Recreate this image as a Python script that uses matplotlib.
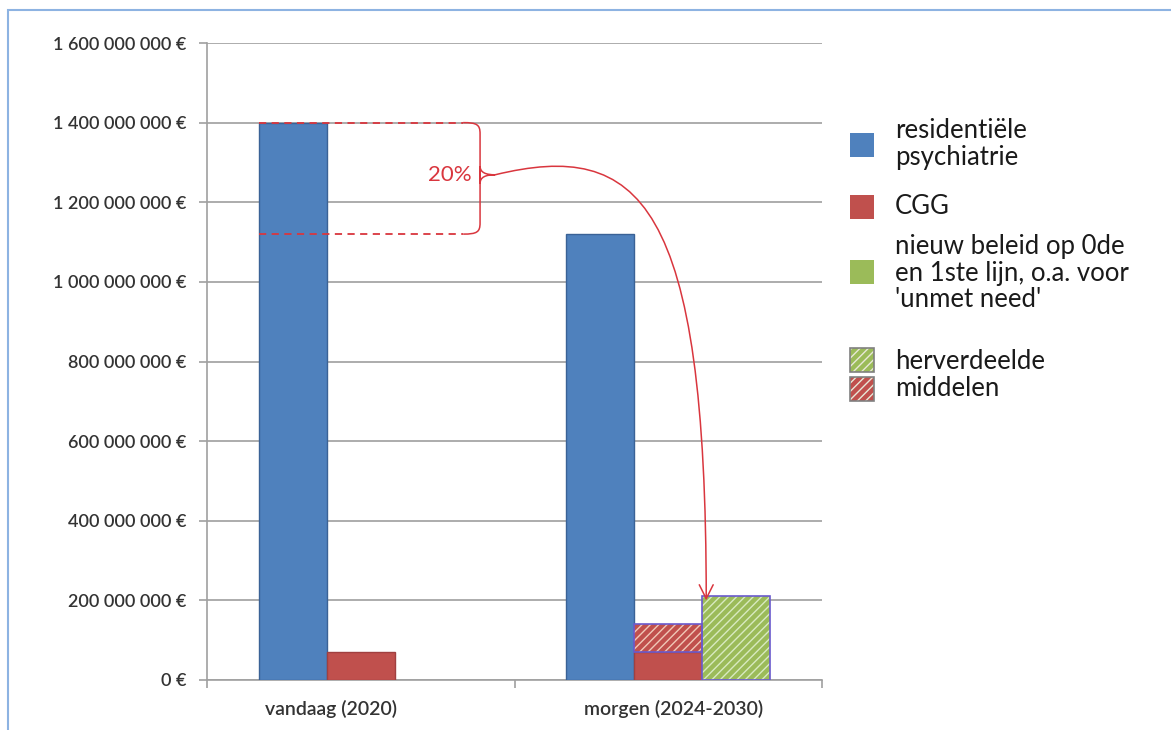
import matplotlib.pyplot as plt
import numpy as np
from matplotlib.patches import Rectangle, FancyArrowPatch, PathPatch
from matplotlib.path import Path
from matplotlib.ticker import FuncFormatter, FixedLocator
from matplotlib.transforms import ScaledTranslation

plt.rcParams['font.family'] = ['Lato', 'DejaVu Sans']
plt.rcParams['hatch.linewidth'] = 1.0

categories = ["vandaag (2020)", "morgen (2024-2030)"]
residentieel = [1400e6, 1120e6]
cgg = [70e6, 70e6]
cgg_herverdeeld = [0, 70e6]
nieuw_beleid = [0, 210e6]
share_label = "20%"

BLUE, RED, GREEN = '#4f81bd', '#c0504d', '#9bbb59'
ANN = '#d9363e'
HATCH_EDGE = '#6a5acd'

fig = plt.figure(figsize=(11.71, 7.3), dpi=100)
ax = fig.add_axes([207 / 1171, 1 - 680 / 730, 615 / 1171, 637 / 730])

x = np.arange(len(categories)) + 0.5
w = 0.221


def nz(vals):
    # hide zero-height segments so no outline is drawn at the baseline
    return np.where(np.array(vals) > 0, vals, np.nan)


ax.bar(x - w, residentieel, w, color=BLUE, edgecolor='#3a6296', lw=1, zorder=3)
ax.bar(x, cgg, w, color=RED, edgecolor='#a04040', lw=1, zorder=3)
# hatched (redistributed) parts
ax.bar(x, nz(cgg_herverdeeld), w, bottom=cgg, color=RED, edgecolor='#f0c8b8',
       hatch='////', lw=0, zorder=3)
ax.bar(x, nz(cgg_herverdeeld), w, bottom=cgg, fill=False, edgecolor=HATCH_EDGE, lw=1.2, zorder=4)
ax.bar(x + w, nz(nieuw_beleid), w, color=GREEN, edgecolor='#d8eac0',
       hatch='////', lw=0, zorder=3)
ax.bar(x + w, nz(nieuw_beleid), w, fill=False, edgecolor=HATCH_EDGE, lw=1.2, zorder=4)

ax.set_xlim(0, len(categories))
ax.set_ylim(0, 1600e6)
ax.yaxis.set_major_locator(FixedLocator(np.arange(0, 1600e6 + 1, 200e6)))
ax.yaxis.set_major_formatter(FuncFormatter(lambda v, p: f"{v:,.0f}".replace(',', ' ') + " €"))
ax.set_xticks(x)
ax.set_xticklabels(categories)
ax.set_xticks(np.arange(len(categories) + 1), minor=True)
ax.tick_params(axis='x', which='major', length=0, pad=14, labelsize=14, labelcolor='#333333')
ax.tick_params(axis='x', which='minor', length=6, color='#a0a0a0', width=1.2)
ax.tick_params(axis='y', length=6, color='#a0a0a0', width=1.2, labelsize=13,
               labelcolor='#333333', pad=9)
for lab in ax.get_yticklabels() + ax.get_xticklabels():
    lab.set_fontweight('semibold')
# the first category label sits a bit left of its group in the original
for lab, dx in zip(ax.get_xticklabels(), [-0.3, 0.05]):
    lab.set_transform(lab.get_transform() + ScaledTranslation(dx, 0, fig.dpi_scale_trans))
ax.grid(axis='y', color='#a6a6a6', lw=1.3, zorder=0)
for s in ['top', 'right']:
    ax.spines[s].set_visible(False)
ax.spines['left'].set_color('#a0a0a0')
ax.spines['left'].set_linewidth(1.2)
ax.spines['bottom'].set_color('#a0a0a0')
ax.spines['bottom'].set_linewidth(1.2)

# 20% annotation: dashed guides and brace
top, low = residentieel[0], residentieel[1]
x0, xe, xb, xt = x[0] - 1.5 * w, 0.833, 0.888, 0.937
mid = 1.269e9
ax.plot([x0, xe], [top, top], ls=(0, (4, 3)), color=ANN, lw=1.3, zorder=5)
ax.plot([x0, xe], [low, low], ls=(0, (4, 3)), color=ANN, lw=1.3, zorder=5)
ry = 28e6
verts = [(xe, top), (xb - 0.01, top), (xb, top - 5e6), (xb, top - ry),
         (xb, mid - 22e6),
         (xb, mid - 5e6), (xb + 0.02, mid), (xt, mid),
         (xb + 0.02, mid), (xb, mid + 5e6), (xb, mid + 22e6),
         (xb, low + ry),
         (xb, low + 5e6), (xb - 0.01, low), (xe, low)]
codes = [Path.MOVETO, Path.CURVE4, Path.CURVE4, Path.CURVE4, Path.LINETO,
         Path.CURVE4, Path.CURVE4, Path.CURVE4,
         Path.CURVE4, Path.CURVE4, Path.CURVE4, Path.LINETO,
         Path.CURVE4, Path.CURVE4, Path.CURVE4]
ax.add_patch(PathPatch(Path(verts, codes), fill=False, edgecolor=ANN, lw=1.1, zorder=5))
ax.text(0.79, mid, share_label, color=ANN, fontsize=16, ha='center', va='center', zorder=6)

xa = x[1] + w / 2 + 0.013
arrow_path = Path([(xt, mid), (1.408, 1.357e9), (xa, 1.206e9), (xa, 200e6)],
                  [Path.MOVETO, Path.CURVE4, Path.CURVE4, Path.CURVE4])
ax.add_patch(FancyArrowPatch(path=arrow_path, arrowstyle='->,head_length=10,head_width=5',
                             color=ANN, lw=1.1, zorder=6))


# legend, drawn by hand in figure pixels
def fx(px):
    return px / 1171


def fy(py):
    return 1 - py / 730


def legend_box(cy, color, hatch=None):
    r = (fx(850), fy(cy + 12))
    if hatch:
        fig.add_artist(Rectangle(r, fx(24), 24 / 730, transform=fig.transFigure,
                                 facecolor=color, edgecolor='#e8e8d8', hatch=hatch, lw=0))
        fig.add_artist(Rectangle(r, fx(24), 24 / 730, transform=fig.transFigure,
                                 fill=False, edgecolor='#808080', lw=1.2))
    else:
        fig.add_artist(Rectangle(r, fx(24), 24 / 730, transform=fig.transFigure,
                                 facecolor=color, edgecolor='none'))


legend_items = [
    (145, BLUE, 144, "residentiële\npsychiatrie"),
    (207, RED, 207, "CGG"),
    (272, GREEN, 273, "nieuw beleid op 0de\nen 1ste lijn, o.a. voor\n'unmet need'"),
]
for cy, col, ty, label in legend_items:
    legend_box(cy, col)
    fig.text(fx(895), fy(ty), label, fontsize=18.5, va='center', ha='left',
             color='#1a1a1a', linespacing=1.07)
legend_box(360, GREEN, '////')
legend_box(389, RED, '////')
fig.text(fx(895), fy(375), "herverdeelde\nmiddelen", fontsize=18.5, va='center', ha='left',
         color='#1a1a1a', linespacing=1.12)

# outer frame
fig.add_artist(Rectangle((fx(8), -0.05), 1.1, fy(10) + 0.05, transform=fig.transFigure,
                         fill=False, edgecolor='#8db3e2', lw=1.5))

fig.savefig('out.png', dpi=100)
